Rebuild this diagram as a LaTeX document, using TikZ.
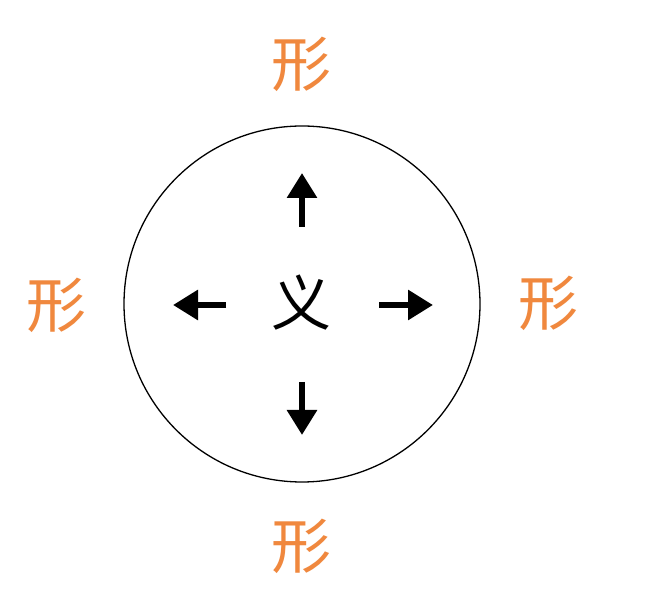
\documentclass[tikz,border=0pt]{standalone}
\usepackage{fontspec}
\newfontfamily\cjk{Noto Sans CJK SC}
\usetikzlibrary{arrows.meta}
\definecolor{xingorange}{RGB}{240,136,62}
\begin{document}
\begin{tikzpicture}[x=1pt,y=1pt,
  xing/.style={font=\cjk\fontsize{60}{60}\selectfont, text=xingorange, inner sep=0pt},
  yi/.style={font=\cjk\fontsize{60}{60}\selectfont, text=black, inner sep=0pt},
  bigarrow/.style={line width=6pt, -{Triangle[width=29pt,length=25pt]}}]
\useasboundingbox (0,0) rectangle (651,599);
\fill[white] (0,0) rectangle (651,599);
\node[draw, circle, line width=1.3pt, minimum size=356pt, inner sep=0pt] (ring) at (302,295) {};
\node[yi] (yi) at (301,296) {义};
\node[xing] (top) at (301,535) {形};
\node[xing] (left) at (56,294) {形};
\node[xing] (right) at (548,296) {形};
\node[xing] (bottom) at (301,53) {形};
\coordinate (us) at (302,372);
\coordinate (ut) at (302,426);
\coordinate (ds) at (302,217);
\coordinate (dt) at (302,164);
\coordinate (ls) at (226,294);
\coordinate (lt) at (173,294);
\coordinate (rs) at (379,294);
\coordinate (rt) at (433,294);
\draw[bigarrow] (us) -- (ut);
\draw[bigarrow] (ds) -- (dt);
\draw[bigarrow] (ls) -- (lt);
\draw[bigarrow] (rs) -- (rt);
\end{tikzpicture}
\end{document}
